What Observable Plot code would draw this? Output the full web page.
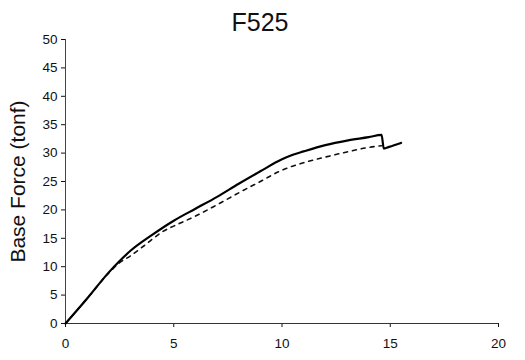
<!DOCTYPE html>
<html><head><meta charset="utf-8">
<script src="https://cdn.jsdelivr.net/npm/d3@7"></script>
<script src="https://cdn.jsdelivr.net/npm/@observablehq/plot@0.6"></script>
<style>body{margin:0;background:#fff;font-family:"Liberation Sans",Arial,sans-serif}</style>
</head><body><div id="chart"></div>
<script>
const title = "F525";
const yLabel = "Base Force (tonf)";
const xTicks = [0, 5, 10, 15, 20];
const yTicks = [0, 5, 10, 15, 20, 25, 30, 35, 40, 45, 50];
// solid series
const solidX = [0, 1, 2, 2.5, 3, 4, 5, 6, 7, 8, 9, 10, 10.5, 11, 12, 13, 14, 14.6, 14.7, 14.95, 15.5];
const solidY = [0, 4.4, 9.0, 11.0, 12.8, 15.6, 18.1, 20.2, 22.3, 24.6, 26.8, 28.9, 29.7, 30.3, 31.4, 32.2, 32.8, 33.2, 30.8, 31.1, 31.8];
// dashed series
const dashX = [0, 1, 2, 2.5, 3, 3.6, 4.5, 5.2, 6, 7, 8, 9, 10, 11, 12, 13, 14, 14.6];
const dashY = [0, 4.4, 8.9, 10.7, 11.9, 13.6, 16.2, 17.5, 18.9, 20.9, 23.0, 25.0, 27.0, 28.3, 29.3, 30.2, 31.0, 31.3];

const solid = solidX.map((x, i) => ({x, y: solidY[i]}));
const dashed = dashX.map((x, i) => ({x, y: dashY[i]}));

const chart = Plot.plot({
  width: 525, height: 360,
  marginLeft: 65, marginRight: 27, marginTop: 39, marginBottom: 37,
  style: {fontFamily: "Liberation Sans, Arial, sans-serif", fontSize: "13px", color: "#111", background: "#fff"},
  x: {domain: [0, 20]},
  y: {domain: [0, 50]},
  marks: [
    Plot.axisX({ticks: xTicks, label: null, tickSize: 4, tickPadding: 11, fontSize: 13.5}),
    Plot.axisY({ticks: yTicks, label: null, tickSize: 4, tickPadding: 4, fontSize: 13.5}),
    Plot.ruleX([0], {stroke: "#444", strokeWidth: 1}),
    Plot.ruleY([0], {stroke: "#333", strokeWidth: 1.2}),
    Plot.line(dashed, {x: "x", y: "y", stroke: "#111", strokeWidth: 1.6, strokeDasharray: "4,5", curve: "monotone-x"}),
    Plot.line(solid, {x: "x", y: "y", stroke: "#000", strokeWidth: 2.2, curve: "monotone-x"}),
    Plot.text([title], {frameAnchor: "top", dy: -26, dx: -22, fontSize: 25, fill: "#111", lineAnchor: "top"}),
    Plot.text([yLabel], {frameAnchor: "left", textAnchor: "middle", dx: -47, rotate: -90, fontSize: 21, fill: "#111"})
  ]
});
document.getElementById("chart").appendChild(chart);
</script></body></html>
